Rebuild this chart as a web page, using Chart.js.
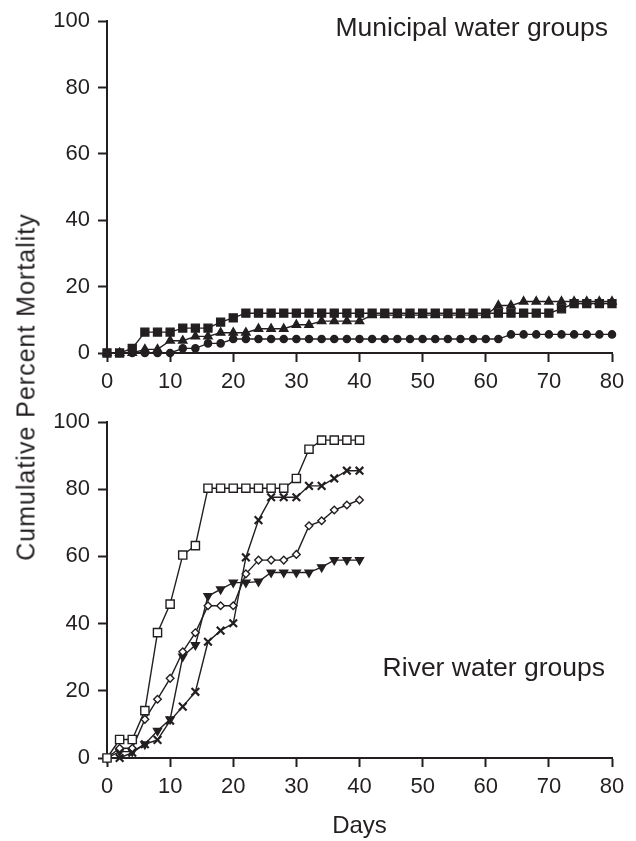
<!DOCTYPE html>
<html>
<head>
<meta charset="utf-8">
<script src="https://cdn.jsdelivr.net/npm/chart.js@4.4.1/dist/chart.umd.min.js"></script>
<style>
  body { margin: 0; background: #fff; }
  #wrap { position: relative; width: 636px; height: 841px; font-family: "Liberation Sans", Arial, sans-serif; color: #231f20; }
  #wrap canvas { position: absolute; left: 0; }
  #top-chart { top: 0; }
  #bottom-chart { top: 400px; }
  .note { position: absolute; font-size: 26.5px; line-height: 1; white-space: nowrap; }
  #y-title {
    position: absolute; left: 26px; top: 387px;
    font-size: 25px; line-height: 1; letter-spacing: 1px; white-space: nowrap;
    transform: translate(-50%, -50%) rotate(-90deg);
  }
</style>
</head>
<body>
<div id="wrap">
  <canvas id="top-chart" width="636" height="400"></canvas>
  <canvas id="bottom-chart" width="636" height="441"></canvas>
  <div class="note" style="right:28px; top:13.6px">Municipal water groups</div>
  <div class="note" style="right:31px; top:653.6px">River water groups</div>
  <div id="y-title">Cumulative Percent Mortality</div>
</div>
<script>
// Municipal water groups (days 0-80)
const municipalDays = [0, 2, 4, 6, 8, 10, 12, 14, 16, 18, 20, 22, 24, 26, 28, 30, 32, 34, 36, 38, 40,
  42, 44, 46, 48, 50, 52, 54, 56, 58, 60, 62, 64, 66, 68, 70, 72, 74, 76, 78, 80];
const municipalSquare = [0, 0, 1.4, 6.3, 6.3, 6.3, 7.5, 7.5, 7.5, 9.3, 10.6,
  12, 12, 12, 12, 12, 12, 12, 12, 12, 12, 12, 12, 12, 12, 12, 12, 12, 12, 12, 12, 12, 12, 12, 12, 12,
  13.3, 14.9, 14.9, 14.9, 14.9];
const municipalTriangle = [0, 0, 0, 1.1, 1.1, 3.7, 3.7, 5.0, 5.0, 6.1, 6.1, 6.1, 7.3, 7.3, 7.3, 8.5, 8.5, 9.6, 9.6, 9.6, 9.6,
  11.4, 11.4, 11.4, 11.4, 11.4, 11.4, 11.4, 11.4, 11.4, 11.4,
  14.3, 14.3, 15.5, 15.5, 15.5, 15.5, 15.5, 15.5, 15.5, 15.5];
const municipalCircle = [0, 0, 0, 0, 0, 0, 1.4, 1.4, 2.9, 2.9,
  4.2, 4.2, 4.2, 4.2, 4.2, 4.2, 4.2, 4.2, 4.2, 4.2, 4.2, 4.2, 4.2, 4.2, 4.2, 4.2, 4.2, 4.2, 4.2, 4.2, 4.2, 4.2,
  5.6, 5.6, 5.6, 5.6, 5.6, 5.6, 5.6, 5.6, 5.6];

// River water groups (days 0-40)
const riverDays = [0, 2, 4, 6, 8, 10, 12, 14, 16, 18, 20, 22, 24, 26, 28, 30, 32, 34, 36, 38, 40];
const riverSquare = [0, 5.5, 5.5, 14.1, 37.3, 45.8, 60.4, 63.2, 80.3, 80.3, 80.3, 80.3, 80.3, 80.3, 80.3,
  83.2, 91.9, 94.6, 94.6, 94.6, 94.6];
const riverCross = [0, 0, 1.6, 4.1, 5.4, 11.1, 15.3, 19.7, 34.6, 37.9, 40.1, 59.7, 70.8, 77.6, 77.6, 77.6,
  81, 81, 83.2, 85.5, 85.5];
const riverDiamond = [0, 2.9, 2.9, 11.5, 17.5, 23.7, 31.6, 37.3, 45.3, 45.3, 45.3, 54.8, 58.9, 58.9, 58.9,
  60.6, 69.1, 70.6, 73.8, 75.3, 76.8];
const riverTriangle = [0, 1.9, 1.9, 4.1, 8.1, 11.5, 30.2, 33.6, 48.2, 50.2, 52.2, 52.2, 52.5, 55.2, 55.2,
  55.2, 55.2, 56.8, 58.9, 58.9, 58.9];

const xTicks = [0, 10, 20, 30, 40, 50, 60, 70, 80];
const yTicks = [0, 20, 40, 60, 80, 100];

const ink = '#231f20';
const fontFamily = '"Liberation Sans", Arial, sans-serif';

function toPoints(days, values) {
  return days.map((d, i) => ({ x: d, y: values[i] }));
}

function series(days, values, style) {
  return Object.assign({
    data: toPoints(days, values),
    borderColor: ink,
    borderWidth: 1.4,
    pointBorderColor: ink,
    pointBackgroundColor: ink,
    pointBorderWidth: 1.4,
    tension: 0,
    clip: false
  }, style);
}

function makeScales(xHeight, xTitle) {
  const tickFont = { family: fontFamily, size: 22 };
  const gridStyle = { display: true, drawOnChartArea: false, drawTicks: true, tickLength: 9, tickWidth: 2, tickColor: ink };
  return {
    x: {
      type: 'linear',
      min: xTicks[0],
      max: xTicks[xTicks.length - 1],
      border: { display: true, color: ink, width: 2 },
      grid: gridStyle,
      afterBuildTicks: (scale) => { scale.ticks = xTicks.map(v => ({ value: v })); },
      ticks: { color: ink, font: tickFont, padding: 7, maxRotation: 0, autoSkip: false },
      title: xTitle ? {
        display: true, text: xTitle, color: ink,
        font: { family: fontFamily, size: 24 }, padding: { top: 0, bottom: 0 }
      } : { display: false },
      afterFit: (scale) => { scale.height = xHeight; }
    },
    y: {
      type: 'linear',
      min: yTicks[0],
      max: yTicks[yTicks.length - 1],
      border: { display: true, color: ink, width: 2 },
      grid: gridStyle,
      afterBuildTicks: (scale) => { scale.ticks = yTicks.map(v => ({ value: v })); },
      ticks: { color: ink, font: tickFont, padding: 8 },
      afterFit: (scale) => { scale.width = 107; }
    }
  };
}

function baseOptions(padding, xHeight, xTitle) {
  return {
    responsive: false,
    animation: false,
    layout: { padding: padding },
    plugins: { legend: { display: false }, tooltip: { enabled: false } },
    scales: makeScales(xHeight, xTitle)
  };
}

// Top panel
new Chart(document.getElementById('top-chart').getContext('2d'), {
  type: 'line',
  data: {
    datasets: [
      series(municipalDays, municipalSquare, { pointStyle: 'rect', pointRadius: 5.6 }),
      series(municipalDays, municipalTriangle, { pointStyle: 'triangle', pointRadius: 4.8 }),
      series(municipalDays, municipalCircle, { pointStyle: 'circle', pointRadius: 3.6 })
    ]
  },
  options: baseOptions({ left: 0, right: 24, top: 16, bottom: 0 }, 47, null)
});

// Bottom panel
new Chart(document.getElementById('bottom-chart').getContext('2d'), {
  type: 'line',
  data: {
    datasets: [
      series(riverDays, riverSquare, { pointStyle: 'rect', pointRadius: 5.8, pointBackgroundColor: '#fff' }),
      series(riverDays, riverCross, { pointStyle: 'crossRot', pointRadius: 5.4, pointBorderWidth: 2.2 }),
      series(riverDays, riverDiamond, { pointStyle: 'rectRot', pointRadius: 3.8, pointBackgroundColor: '#fff' }),
      series(riverDays, riverTriangle, { pointStyle: 'triangle', pointRadius: 4.6, pointRotation: 180 })
    ]
  },
  options: baseOptions({ left: 0, right: 24, top: 22, bottom: 0 }, 83, 'Days')
});
</script>
</body>
</html>
